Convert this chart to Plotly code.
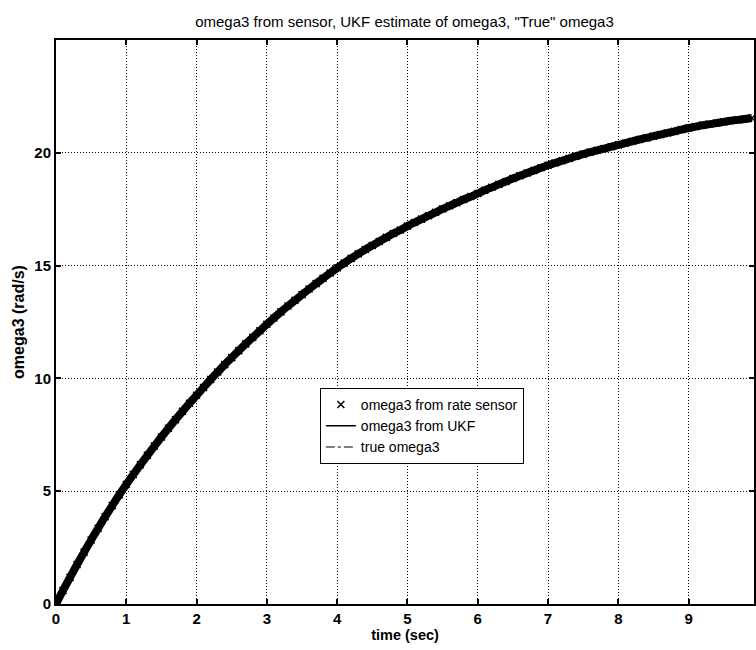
import numpy as np
import plotly.graph_objects as go

# Time base of the rate-sensor samples (s)
t_sensor = np.round(np.arange(0, 100) * 0.1, 2)

# omega3 measured by the rate sensor (rad/s), one value per 0.1 s
omega_sensor = [
    0.00, 0.60, 1.18, 1.75, 2.30, 2.84, 3.36, 3.87, 4.36, 4.84,
    5.30, 5.74, 6.17, 6.59, 7.00, 7.40, 7.79, 8.17, 8.54, 8.90,
    9.25, 9.60, 9.95, 10.28, 10.61, 10.92, 11.23, 11.53, 11.82, 12.11,
    12.40, 12.68, 12.95, 13.21, 13.46, 13.71, 13.96, 14.20, 14.44, 14.67,
    14.90, 15.11, 15.32, 15.52, 15.71, 15.89, 16.07, 16.25, 16.42, 16.58,
    16.75, 16.91, 17.06, 17.21, 17.36, 17.51, 17.65, 17.79, 17.93, 18.06,
    18.20, 18.34, 18.47, 18.60, 18.73, 18.86, 18.98, 19.10, 19.22, 19.34,
    19.45, 19.55, 19.65, 19.75, 19.85, 19.94, 20.03, 20.11, 20.19, 20.27,
    20.35, 20.43, 20.51, 20.59, 20.66, 20.74, 20.81, 20.88, 20.95, 21.03,
    21.10, 21.16, 21.22, 21.27, 21.32, 21.37, 21.42, 21.46, 21.50, 21.54,
]

# UKF estimate and true omega3 (rad/s), every 0.5 s
t_est = [0, 0.5, 1, 1.5, 2, 2.5, 3, 3.5, 4, 4.5, 5, 5.5, 6, 6.5, 7, 7.5,
         8, 8.5, 9, 9.5, 9.9]
omega_ukf = [0.00, 2.84, 5.30, 7.40, 9.25, 10.92, 12.40, 13.71, 14.90,
             15.89, 16.75, 17.51, 18.20, 18.86, 19.45, 19.94, 20.35, 20.74,
             21.10, 21.37, 21.54]
omega_true = [0.00, 2.84, 5.30, 7.40, 9.25, 10.92, 12.40, 13.71, 14.90,
              15.89, 16.75, 17.51, 18.20, 18.86, 19.45, 19.94, 20.35, 20.74,
              21.10, 21.37, 21.54]

x_ticks = [0, 1, 2, 3, 4, 5, 6, 7, 8, 9]
y_ticks = [0, 5, 10, 15, 20]

FONT = "Liberation Sans, Arial, Helvetica, sans-serif"

fig = go.Figure()
# dense sensor samples drawn as a heavy band
fig.add_trace(go.Scatter(
    x=t_sensor, y=omega_sensor, mode="lines", legendgroup="sensor",
    showlegend=False, hoverinfo="skip",
    line=dict(color="black", width=8, shape="spline", smoothing=1),
))
fig.add_trace(go.Scatter(
    x=t_sensor, y=omega_sensor, mode="markers", legendgroup="sensor",
    name="omega3 from rate sensor",
    marker=dict(symbol="x-thin", size=7, color="black",
                line=dict(width=1.5, color="black")),
))
fig.add_trace(go.Scatter(
    x=t_est, y=omega_ukf, mode="lines", name="omega3 from UKF",
    line=dict(color="black", width=1.5, shape="spline"),
))
fig.add_trace(go.Scatter(
    x=t_est, y=omega_true, mode="lines", name="true omega3",
    line=dict(color="black", width=1.2, dash="dashdot", shape="spline"),
))

axis_common = dict(
    showline=True, linecolor="black", linewidth=2, mirror="ticks",
    ticks="inside", ticklen=5, tickcolor="black", tickwidth=1.5,
    showgrid=True, gridcolor="black", gridwidth=1, griddash="1px,2px",
    zeroline=False,
    tickfont=dict(family=FONT, size=15, color="black", weight="bold"),
)

fig.update_xaxes(
    range=[0, 9.93], tickvals=x_ticks,
    title=dict(text="time (sec)", standoff=2,
               font=dict(family=FONT, size=14.5, color="black", weight="bold")),
    **axis_common,
)
fig.update_yaxes(
    range=[0, 25], tickvals=y_ticks,
    title=dict(text="omega3 (rad/s)", standoff=6,
               font=dict(family=FONT, size=16, color="black", weight="bold")),
    **axis_common,
)

fig.update_layout(
    width=756, height=650,
    margin=dict(l=56, r=0, t=40, b=46),
    paper_bgcolor="white", plot_bgcolor="white",
    title=dict(text='omega3 from sensor, UKF estimate of omega3, "True" omega3',
               x=0.535, xanchor="center", y=0.966, yanchor="middle",
               font=dict(family=FONT, size=15, color="black")),
    showlegend=True,
    legend=dict(
        x=0.378, y=0.383, xanchor="left", yanchor="top",
        bgcolor="white", bordercolor="black", borderwidth=1,
        font=dict(family=FONT, size=14, color="black"),
        tracegroupgap=0, itemwidth=30,
    ),
)

fig.write_html("out.html")
